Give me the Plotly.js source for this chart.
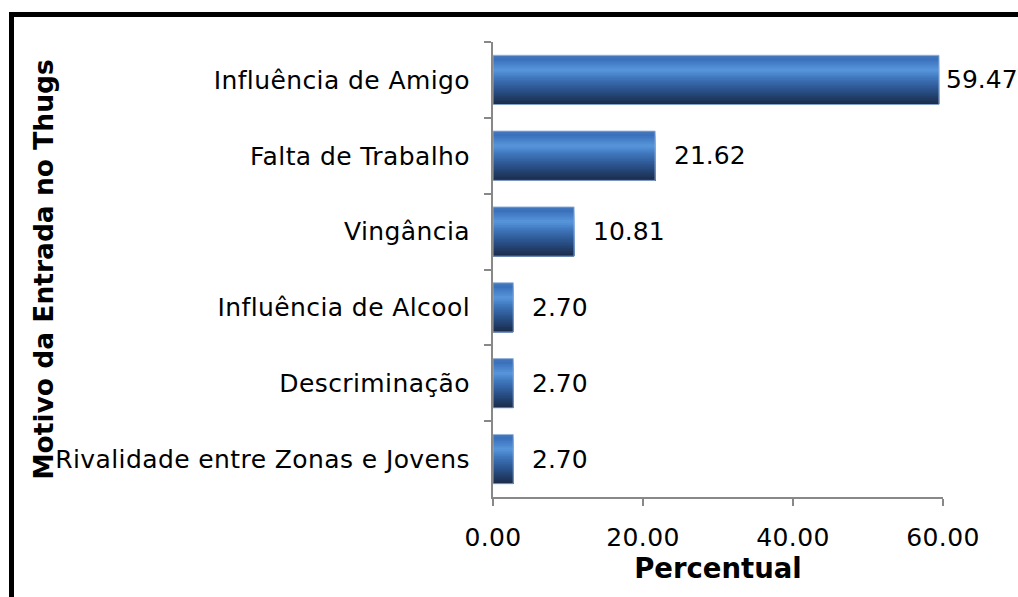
<!DOCTYPE html>
<html>
<head>
<meta charset="utf-8">
<script src="https://cdn.plot.ly/plotly-3.0.1.min.js"></script>
<style>
  html, body { margin: 0; padding: 0; background: #fff; }
  #chart { width: 1018px; height: 597px; }
  #chart .ytick text, #chart .xtick text { letter-spacing: 0.4px; }
</style>
</head>
<body>
<div id="chart"></div>
<script>
// ---- data ----
const categories = [
  "Influência de Amigo",
  "Falta de Trabalho",
  "Vingância",
  "Influência de Alcool",
  "Descriminação",
  "Rivalidade entre Zonas e Jovens"
];
const percentValues = [59.47, 21.62, 10.81, 2.70, 2.70, 2.70];
const xTickValues = [0, 20, 40, 60];

// ---- style: vertical gradient across bar thickness (top -> bottom) ----
const gradStops = [
  [0.00, [70, 120, 186]],
  [0.08, [58, 112, 186]],
  [0.30, [88, 150, 220]],
  [0.45, [64, 120, 190]],
  [0.65, [46, 90, 150]],
  [0.85, [33, 62, 106]],
  [1.00, [27, 43, 72]]
];
function gradColor(t) {
  for (let i = 1; i < gradStops.length; i++) {
    if (t <= gradStops[i][0]) {
      const a = gradStops[i - 1], b = gradStops[i];
      const f = (t - a[0]) / (b[0] - a[0]);
      const c = a[1].map((v, k) => Math.round(v + (b[1][k] - v) * f));
      return `rgb(${c[0]},${c[1]},${c[2]})`;
    }
  }
  const c = gradStops[gradStops.length - 1][1];
  return `rgb(${c[0]},${c[1]},${c[2]})`;
}

const barThick = 0.65;
const nStripes = 30;
const stripe = barThick / nStripes;
const traces = [];
for (let i = 0; i < nStripes; i++) {
  // each stripe reaches to the bar's bottom; later stripes cover the lower part
  traces.push({
    type: "bar",
    orientation: "h",
    x: percentValues,
    y: categories,
    width: barThick - i * stripe,
    offset: -barThick / 2 + i * stripe,
    marker: { color: gradColor((i + 0.5) / nStripes), line: { width: 0 } },
    hoverinfo: "skip",
    showlegend: false
  });
}
// thin light outline
traces.push({
  type: "bar",
  orientation: "h",
  x: percentValues,
  y: categories,
  width: barThick,
  offset: -barThick / 2,
  marker: { color: "rgba(0,0,0,0)", line: { width: 1, color: "rgba(150,180,220,0.9)" } },
  hoverinfo: "skip",
  showlegend: false
});

const maxVal = Math.max(...percentValues);
const annotations = percentValues.map((v, i) => ({
  x: v,
  y: categories[i],
  xref: "x",
  yref: "y",
  text: v.toFixed(2),
  showarrow: false,
  xanchor: "left",
  xshift: v === maxVal ? 5 : 17,
  font: { family: "DejaVu Sans", size: 25, color: "#000" }
}));

// frame as paper-referenced shape (plot area: x 493..943, y 42..497)
const pxToPaperX = px => (px - 493) / 450;
const pxToPaperY = py => (497 - py) / 455;

const layout = {
  width: 1018,
  height: 597,
  margin: { l: 493, r: 75, t: 42, b: 100 },
  paper_bgcolor: "#ffffff",
  plot_bgcolor: "#ffffff",
  barmode: "overlay",
  font: { family: "DejaVu Sans", color: "#000" },
  xaxis: {
    range: [0, 60],
    tickvals: xTickValues,
    tickformat: ".2f",
    showgrid: false,
    zeroline: false,
    showline: true,
    linecolor: "#888888",
    linewidth: 2,
    ticks: "outside",
    ticklen: 7,
    tickwidth: 2,
    tickcolor: "#888888",
    ticklabelstandoff: 10,
    tickfont: { family: "DejaVu Sans", size: 25, color: "#000" },
    title: {
      text: "<b>Percentual</b>",
      font: { family: "DejaVu Sans", size: 27.5, color: "#000" },
      standoff: 5
    },
    fixedrange: true
  },
  yaxis: {
    type: "category",
    autorange: "reversed",
    showgrid: false,
    zeroline: false,
    showline: true,
    linecolor: "#888888",
    linewidth: 2,
    ticks: "outside",
    tickson: "boundaries",
    ticklen: 7,
    tickwidth: 2,
    tickcolor: "#888888",
    ticklabelstandoff: 16,
    tickfont: { family: "DejaVu Sans", size: 25, color: "#000" },
    title: {
      text: "<b>Motivo da Entrada no Thugs</b>",
      font: { family: "DejaVu Sans", size: 26.5, color: "#000" },
      standoff: 6
    },
    fixedrange: true
  },
  annotations: annotations,
  shapes: [{
    type: "rect",
    xref: "paper",
    yref: "paper",
    x0: pxToPaperX(11.5),
    x1: pxToPaperX(1040),
    y0: pxToPaperY(620),
    y1: pxToPaperY(14.5),
    line: { color: "#000", width: 5 },
    fillcolor: "rgba(0,0,0,0)",
    layer: "above"
  }]
};

Plotly.newPlot("chart", traces, layout, { displayModeBar: false, staticPlot: true });
</script>
</body>
</html>
